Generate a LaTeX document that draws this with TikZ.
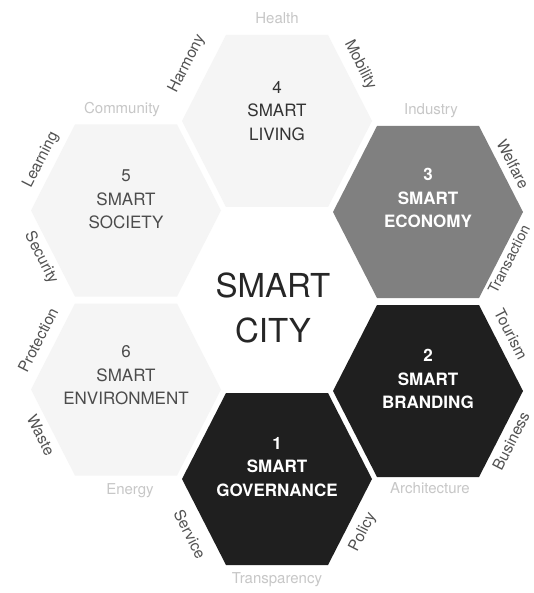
\documentclass[tikz,border=0pt]{standalone}
\usepackage{fontspec}
\setmainfont{TeX Gyre Heros}
\usetikzlibrary{calc}
% flat-topped hexagon around a named centre
\newcommand\hexcell[2]{%
  \fill[#1] ($(#2)+(-95,0)$) -- ($(#2)+(-51,-86)$) -- ($(#2)+(51,-86)$)
    -- ($(#2)+(95,0)$) -- ($(#2)+(51,86)$) -- ($(#2)+(-51,86)$) -- cycle;}
\begin{document}
\begin{tikzpicture}[x=1pt,y=-1pt,
  hexdark/.style={fill=black!88},
  hexmid/.style={fill=black!50},
  hexpale/.style={fill=black!4},
  titlebold/.style={text=white,font=\bfseries\fontsize{17}{23.5}\selectfont,align=center},
  titlelight/.style={text=black!70,font=\fontsize{17}{23.5}\selectfont,align=center},
  edgelabel/.style={text=black!68,font=\fontsize{15.5}{18}\selectfont,inner sep=0pt},
  faintlabel/.style={text=black!22,font=\fontsize{15}{18}\selectfont,inner sep=0pt},
  citytext/.style={text=black!85,font=\fontsize{33}{40}\selectfont,anchor=base,inner sep=0pt}
]
\useasboundingbox (0,0) rectangle (533,593);
\fill[white] (0,0) rectangle (533,593);

% hexagon centres of the ring
\coordinate (c1) at (277,479);
\coordinate (c2) at (428,391);
\coordinate (c3) at (428,212);
\coordinate (c4) at (277,121);
\coordinate (c5) at (126,210.5);
\coordinate (c6) at (126,389.5);

\hexcell{hexdark}{c1}
\hexcell{hexdark}{c2}
\hexcell{hexmid}{c3}
\hexcell{hexpale}{c4}
\hexcell{hexpale}{c5}
\hexcell{hexpale}{c6}

% hexagon titles
\node[titlebold] (t1) at ($(c1)+(0,-12)$) {1\\SMART\\GOVERNANCE};
\node[titlebold] (t2) at ($(c2)+(0,-12)$) {2\\SMART\\BRANDING};
\node[titlebold] (t3) at ($(c3)+(0,-14)$) {3\\SMART\\ECONOMY};
\node[titlelight,text=black!80] (t4) at ($(c4)+(0,-10)$) {4\\SMART\\LIVING};
\node[titlelight] (t5) at ($(c5)+(0,-11)$) {5\\SMART\\SOCIETY};
\node[titlelight] (t6) at ($(c6)+(0,-14)$) {6\\SMART\\ENVIRONMENT};

% centre
\node[citytext] (city1) at (273,297) {SMART};
\node[citytext] (city2) at (273,342) {CITY};

% outer edge labels
\node[faintlabel] (l-health) at (277,18) {Health};
\node[edgelabel,rotate=63] (l-harmony) at (187,64) {Harmony};
\node[edgelabel,rotate=-63] (l-mobility) at (360,65) {Mobility};
\node[faintlabel] (l-community) at (122,110) {Community};
\node[edgelabel,rotate=63] (l-learning) at (41,160) {Learning};
\node[edgelabel,rotate=-63] (l-security) at (41,258) {Security};
\node[edgelabel,rotate=63] (l-protection) at (38,340) {Protection};
\node[edgelabel,rotate=-63] (l-waste) at (41,435) {Waste};
\node[faintlabel] (l-energy) at (130,491) {Energy};
\node[edgelabel,rotate=-63] (l-service) at (190,534) {Service};
\node[faintlabel] (l-transparency) at (277,580) {Transparency};
\node[edgelabel,rotate=63] (l-policy) at (363,532) {Policy};
\node[faintlabel] (l-architecture) at (430,488) {Architecture};
\node[edgelabel,rotate=63] (l-business) at (511,441) {Business};
\node[edgelabel,rotate=-63] (l-tourism) at (511,334) {Tourism};
\node[edgelabel,rotate=63,font=\fontsize{14.5}{17}\selectfont] (l-transaction) at (509,259) {Transaction};
\node[edgelabel,rotate=-63] (l-welfare) at (513,164) {Welfare};
\node[faintlabel] (l-industry) at (431,111) {Industry};
\end{tikzpicture}
\end{document}
